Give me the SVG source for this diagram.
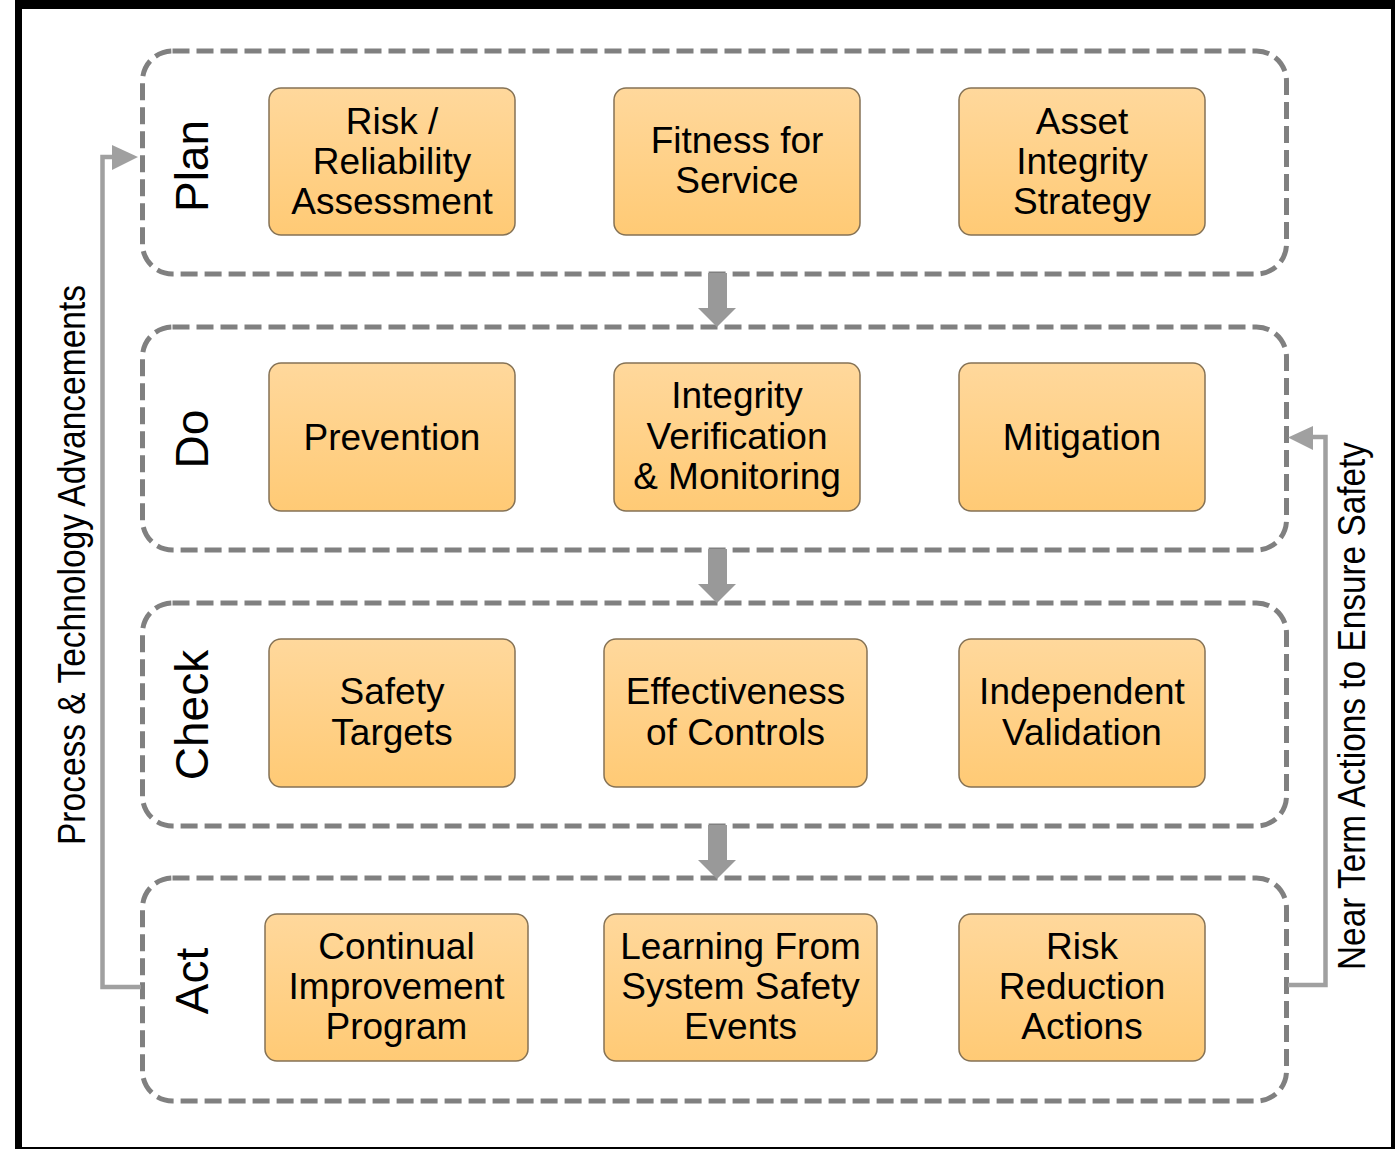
<svg xmlns="http://www.w3.org/2000/svg" width="1395" height="1149" viewBox="0 0 1395 1149">
  <defs>
    <linearGradient id="boxFill" x1="0" y1="0" x2="0" y2="1">
      <stop offset="0" stop-color="#FFD89C"/>
      <stop offset="1" stop-color="#FFCA75"/>
    </linearGradient>
    <style>
      .phase { fill: none; stroke: #808080; stroke-width: 5; stroke-dasharray: 17 7; }
      .box { fill: url(#boxFill); stroke: #857255; stroke-width: 1.5; }
      .box-text { font-family: "Liberation Sans", Arial, sans-serif; font-size: 37px; fill: #000; text-anchor: middle; }
      .phase-label { font-family: "Liberation Sans", Arial, sans-serif; font-size: 46px; fill: #000; text-anchor: middle; }
      .side-text { font-family: "Liberation Sans Narrow", "Arial Narrow", "Liberation Sans", sans-serif; font-size: 39px; fill: #000; text-anchor: middle; }
      .flow { fill: #999999; }
      .loop { fill: none; stroke: #a0a0a0; stroke-width: 4.5; }
      .loop-head { fill: #a0a0a0; }
    </style>
  </defs>

  <!-- frame -->
  <rect x="15" y="0" width="1380" height="1149" fill="#000"/>
  <rect x="22" y="9" width="1369" height="1138" fill="#fff"/>

  <!-- phase containers -->
  <g id="plan">
    <rect class="phase" x="142.5" y="51" width="1144" height="223" rx="30"/>
    <text class="phase-label" transform="translate(208,166) rotate(-90)">Plan</text>
  </g>
  <g id="do">
    <rect class="phase" x="142.5" y="327" width="1144" height="223" rx="30"/>
    <text class="phase-label" transform="translate(208,439) rotate(-90)">Do</text>
  </g>
  <g id="check">
    <rect class="phase" x="142.5" y="603" width="1144" height="223" rx="30"/>
    <text class="phase-label" transform="translate(208,715) rotate(-90)">Check</text>
  </g>
  <g id="act">
    <rect class="phase" x="142.5" y="878" width="1144" height="223" rx="30"/>
    <text class="phase-label" transform="translate(208,981) rotate(-90)">Act</text>
  </g>

  <!-- Plan row -->
  <g id="risk-reliability">
    <rect class="box" x="269" y="88" width="246" height="147" rx="12"/>
    <text class="box-text" x="392" y="134">Risk /</text>
    <text class="box-text" x="392" y="174">Reliability</text>
    <text class="box-text" x="392" y="214">Assessment</text>
  </g>
  <g id="fitness">
    <rect class="box" x="614" y="88" width="246" height="147" rx="12"/>
    <text class="box-text" x="737" y="153">Fitness for</text>
    <text class="box-text" x="737" y="193">Service</text>
  </g>
  <g id="asset-strategy">
    <rect class="box" x="959" y="88" width="246" height="147" rx="12"/>
    <text class="box-text" x="1082" y="134">Asset</text>
    <text class="box-text" x="1082" y="174">Integrity</text>
    <text class="box-text" x="1082" y="214">Strategy</text>
  </g>

  <!-- Do row -->
  <g id="prevention">
    <rect class="box" x="269" y="363" width="246" height="148" rx="12"/>
    <text class="box-text" x="392" y="450">Prevention</text>
  </g>
  <g id="verification">
    <rect class="box" x="614" y="363" width="246" height="148" rx="12"/>
    <text class="box-text" x="737" y="408">Integrity</text>
    <text class="box-text" x="737" y="449">Verification</text>
    <text class="box-text" x="737" y="489">&amp; Monitoring</text>
  </g>
  <g id="mitigation">
    <rect class="box" x="959" y="363" width="246" height="148" rx="12"/>
    <text class="box-text" x="1082" y="450">Mitigation</text>
  </g>

  <!-- Check row -->
  <g id="safety-targets">
    <rect class="box" x="269" y="639" width="246" height="148" rx="12"/>
    <text class="box-text" x="392" y="704">Safety</text>
    <text class="box-text" x="392" y="745">Targets</text>
  </g>
  <g id="effectiveness">
    <rect class="box" x="604" y="639" width="263" height="148" rx="12"/>
    <text class="box-text" x="735.5" y="704">Effectiveness</text>
    <text class="box-text" x="735.5" y="745">of Controls</text>
  </g>
  <g id="validation">
    <rect class="box" x="959" y="639" width="246" height="148" rx="12"/>
    <text class="box-text" x="1082" y="704">Independent</text>
    <text class="box-text" x="1082" y="745">Validation</text>
  </g>

  <!-- Act row -->
  <g id="improvement">
    <rect class="box" x="265" y="914" width="263" height="147" rx="12"/>
    <text class="box-text" x="396.5" y="959">Continual</text>
    <text class="box-text" x="396.5" y="999">Improvement</text>
    <text class="box-text" x="396.5" y="1039">Program</text>
  </g>
  <g id="learning">
    <rect class="box" x="604" y="914" width="273" height="147" rx="12"/>
    <text class="box-text" x="740.5" y="959">Learning From</text>
    <text class="box-text" x="740.5" y="999">System Safety</text>
    <text class="box-text" x="740.5" y="1039">Events</text>
  </g>
  <g id="risk-reduction">
    <rect class="box" x="959" y="914" width="246" height="147" rx="12"/>
    <text class="box-text" x="1082" y="959">Risk</text>
    <text class="box-text" x="1082" y="999">Reduction</text>
    <text class="box-text" x="1082" y="1039">Actions</text>
  </g>

  <!-- connectors -->
  <g id="connectors">
    <!-- phase-to-phase block arrows -->
    <polygon class="flow" points="708,273 727,273 727,308 736,308 717,327 698,308 708,308"/>
    <polygon class="flow" points="708,549 727,549 727,584 736,584 717,603 698,584 708,584"/>
    <polygon class="flow" points="708,825 727,825 727,860 736,860 717,879 698,860 708,860"/>

    <!-- long-term loop: Act back to Plan -->
    <polyline class="loop" points="141,987 102.5,987 102.5,157 114,157"/>
    <polygon class="loop-head" points="112,145 138,157 112,170"/>
    <text class="side-text" transform="translate(85,565) rotate(-90)" textLength="560" lengthAdjust="spacingAndGlyphs">Process &amp; Technology Advancements</text>

    <!-- near-term loop: Act back to Do -->
    <polyline class="loop" points="1288,985 1325.5,985 1325.5,437 1311,437"/>
    <polygon class="loop-head" points="1313,426 1288,437.5 1313,450"/>
    <text class="side-text" transform="translate(1365,706) rotate(-90)" textLength="528" lengthAdjust="spacingAndGlyphs">Near Term Actions to Ensure Safety</text>
  </g>
</svg>
